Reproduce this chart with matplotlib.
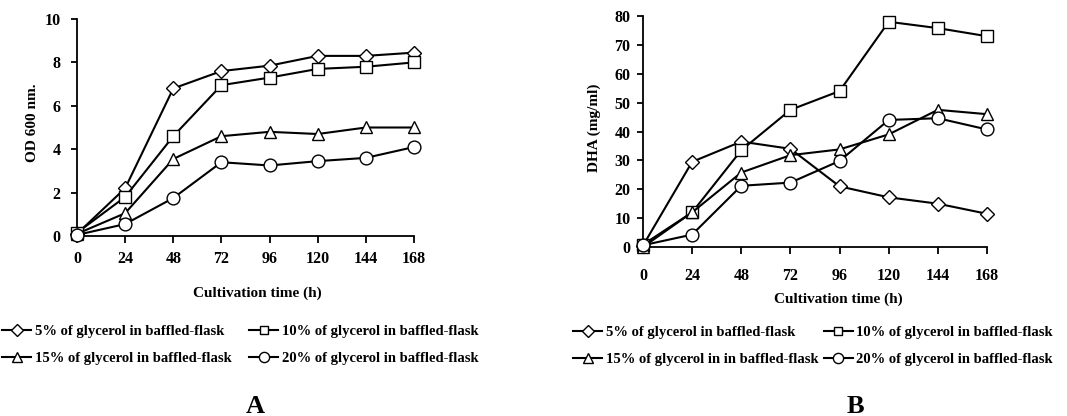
import matplotlib
matplotlib.use("Agg")
import matplotlib.pyplot as plt

plt.rcParams['font.family'] = ['Liberation Serif', 'DejaVu Serif']
plt.rcParams['font.weight'] = 'bold'

hours = [0, 24, 48, 72, 96, 120, 144, 168]

# Cell growth (OD 600 nm)
od_5 = [0.1, 2.2, 6.8, 7.6, 7.85, 8.3, 8.3, 8.45]
od_10 = [0.15, 1.8, 4.6, 6.95, 7.3, 7.7, 7.8, 8.0]
od_15 = [0.1, 1.05, 3.55, 4.6, 4.8, 4.7, 5.0, 5.0]
od_20 = [0.05, 0.55, 1.75, 3.4, 3.25, 3.45, 3.6, 4.1]

# DHA production (mg/ml)
dha_5 = [0.5, 29.5, 36.5, 34.0, 21.0, 17.2, 15.0, 11.5]
dha_10 = [0.8, 12.0, 33.5, 47.5, 54.0, 78.0, 75.8, 73.0]
dha_15 = [0.0, 12.0, 25.8, 31.8, 33.8, 39.0, 47.5, 46.0]
dha_20 = [0.6, 4.3, 21.2, 22.3, 29.8, 44.0, 44.6, 40.7]

labels_a = ["5% of glycerol in baffled-flask",
            "10% of glycerol in baffled-flask",
            "15% of glycerol in baffled-flask",
            "20% of glycerol in baffled-flask"]
labels_b = ["5% of glycerol in baffled-flask",
            "10% of glycerol in baffled-flask",
            "15% of glycerol in in baffled-flask",
            "20% of glycerol in baffled-flask"]

markers = ['D', 's', '^', 'o']
msizes = [7.1, 8.0, 8.8, 9.2]

fig = plt.figure(figsize=(10.67, 4.16), dpi=100)
W, H = 1067, 416

def px_axes(l, r, t, b):
    return fig.add_axes([l / W, 1 - b / H, (r - l) / W, (b - t) / H])

ax_a = px_axes(77, 414, 19, 236)
ax_b = px_axes(643, 987, 16, 247)

TICK_FS = 11.5
LABEL_FS = 11
LEG_FS = 10.5

def draw(ax, series, labels, ymax, ystep, xpad, ypad):
    handles = []
    for ys, m, ms, lab in zip(series, markers, msizes, labels):
        h, = ax.plot(hours, ys, color='black', lw=1.5, marker=m, ms=ms,
                     mfc='white', mec='black', mew=1.0, clip_on=False,
                     label=lab, zorder=3)
        handles.append(h)
    ax.set_xlim(0, 168)
    ax.set_ylim(0, ymax)
    ax.set_xticks(hours)
    ax.set_yticks(range(0, ymax + 1, ystep))
    for s in ['top', 'right']:
        ax.spines[s].set_visible(False)
    for s in ['left', 'bottom']:
        ax.spines[s].set_linewidth(1.3)
    ax.tick_params(axis='x', direction='out', length=5, width=1.3,
                   pad=xpad, labelsize=TICK_FS)
    ax.tick_params(axis='y', direction='out', length=4, width=1.3,
                   pad=ypad, labelsize=TICK_FS)
    for t in ax.get_xticklabels() + ax.get_yticklabels():
        t.set_fontweight('bold')
    return handles

h_a = draw(ax_a, [od_5, od_10, od_15, od_20], labels_a, 10, 2, 6, 8)
h_b = draw(ax_b, [dha_5, dha_10, dha_15, dha_20], labels_b, 80, 10, 10, 5)

ax_a.set_ylabel("OD 600 nm.", fontsize=LABEL_FS, fontweight='bold')
ax_a.yaxis.set_label_coords(-0.113, 0.52)
ax_a.set_xlabel("Cultivation time (h)", fontsize=LABEL_FS, fontweight='bold')
ax_a.xaxis.set_label_coords(0.534, -0.232)

ax_b.set_ylabel("DHA (mg/ml)", fontsize=LABEL_FS, fontweight='bold')
ax_b.yaxis.set_label_coords(-0.122, 0.515)
ax_b.set_xlabel("Cultivation time (h)", fontsize=LABEL_FS, fontweight='bold')
ax_b.xaxis.set_label_coords(0.567, -0.197)

leg_kw = dict(frameon=False, ncol=2, handlelength=2.0,
              handletextpad=0.25, borderpad=0, borderaxespad=0,
              labelspacing=0.95, markerscale=0.8,
              prop={'weight': 'bold', 'size': LEG_FS})
order = [0, 2, 1, 3]
fig.legend([h_a[i] for i in order], [labels_a[i] for i in order],
           loc='upper left', bbox_to_anchor=(2 / W, 1 - 325 / H),
           columnspacing=1.2, **leg_kw)
fig.legend([h_b[i] for i in order], [labels_b[i] for i in order],
           loc='upper left', bbox_to_anchor=(573 / W, 1 - 326 / H),
           columnspacing=0.35, **leg_kw)

fig.text(255 / W, 1 - 413 / H, "A", fontsize=19, fontweight='bold',
         ha='center', va='baseline')
fig.text(855 / W, 1 - 413 / H, "B", fontsize=19, fontweight='bold',
         ha='center', va='baseline')

fig.savefig("out.png", dpi=100)
